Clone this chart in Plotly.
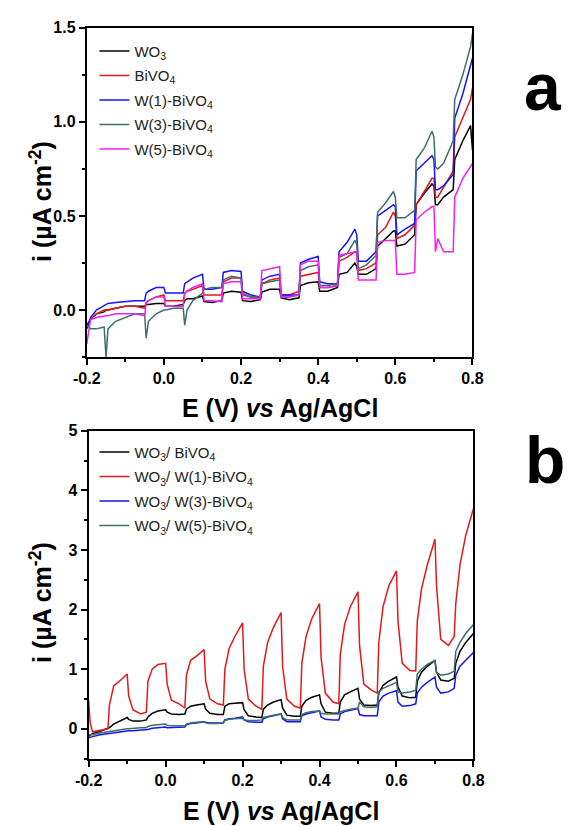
import plotly.graph_objects as go

W, H = 584, 826

# ---------------- Panel a data ----------------
X_A = [-0.200, -0.190, -0.175, -0.155, -0.150, -0.145, -0.125, -0.100, -0.075, -0.050,
       -0.046, -0.040, -0.020, 0.000, 0.004, 0.025, 0.050, 0.054, 0.060, 0.075,
       0.100, 0.104, 0.125, 0.150, 0.154, 0.175, 0.200, 0.204, 0.225, 0.250,
       0.254, 0.275, 0.300, 0.304, 0.325, 0.350, 0.354, 0.375, 0.400, 0.404,
       0.425, 0.450, 0.454, 0.475, 0.495, 0.500, 0.504, 0.525, 0.550, 0.554,
       0.575, 0.595, 0.600, 0.604, 0.625, 0.650, 0.654, 0.675, 0.695, 0.700,
       0.704, 0.710, 0.725, 0.750, 0.754, 0.775, 0.795, 0.800]

WO3 = [-0.08, -0.05, -0.02, -0.01, 0.00, 0.00, 0.01, 0.02, 0.02, 0.02,
       0.03, 0.03, 0.035, 0.035, 0.02, 0.02, 0.03, 0.05, 0.06, 0.06,
       0.075, 0.045, 0.04, 0.05, 0.09, 0.10, 0.095, 0.05, 0.045, 0.055,
       0.095, 0.11, 0.11, 0.065, 0.055, 0.065, 0.13, 0.145, 0.15, 0.10,
       0.10, 0.12, 0.19, 0.20, 0.25, 0.23, 0.19, 0.19, 0.22, 0.34,
       0.38, 0.42, 0.42, 0.34, 0.35, 0.40, 0.56, 0.62, 0.67, 0.66,
       0.56, 0.56, 0.60, 0.64, 0.80, 0.90, 0.98, 0.85]

BIVO4 = [-0.10, -0.05, -0.02, 0.00, 0.00, 0.00, 0.01, 0.02, 0.02, 0.01,
         0.04, 0.05, 0.07, 0.08, 0.05, 0.05, 0.05, 0.09, 0.10, 0.11,
         0.13, 0.08, 0.08, 0.08, 0.15, 0.17, 0.17, 0.08, 0.07, 0.07,
         0.14, 0.16, 0.17, 0.08, 0.08, 0.10, 0.18, 0.19, 0.20, 0.12,
         0.12, 0.13, 0.26, 0.28, 0.31, 0.30, 0.21, 0.22, 0.25, 0.40,
         0.44, 0.52, 0.50, 0.38, 0.40, 0.45, 0.56, 0.63, 0.70, 0.70,
         0.60, 0.60, 0.65, 0.74, 0.92, 1.02, 1.12, 1.18]

W1_BIVO4 = [-0.10, -0.04, 0.00, 0.025, 0.03, 0.035, 0.04, 0.045, 0.05, 0.05,
            0.09, 0.10, 0.12, 0.12, 0.09, 0.09, 0.09, 0.14, 0.15, 0.17,
            0.19, 0.11, 0.11, 0.12, 0.20, 0.21, 0.205, 0.10, 0.08, 0.07,
            0.16, 0.18, 0.19, 0.08, 0.08, 0.08, 0.25, 0.27, 0.285, 0.15,
            0.14, 0.14, 0.31, 0.36, 0.43, 0.40, 0.26, 0.26, 0.31, 0.50,
            0.53, 0.56, 0.55, 0.40, 0.43, 0.46, 0.74, 0.78, 0.82, 0.80,
            0.64, 0.64, 0.66, 0.72, 1.02, 1.15, 1.30, 1.34]

W3_BIVO4 = [-0.08, -0.10, -0.10, -0.09, -0.25, -0.10, -0.06, -0.04, -0.02, -0.02,
            -0.15, -0.06, -0.02, 0.00, 0.00, 0.01, 0.01, -0.08, 0.00, 0.05,
            0.09, 0.11, 0.12, 0.12, 0.16, 0.18, 0.17, 0.09, 0.07, 0.07,
            0.14, 0.15, 0.16, 0.07, 0.07, 0.08, 0.21, 0.23, 0.24, 0.13,
            0.13, 0.14, 0.28, 0.30, 0.37, 0.35, 0.22, 0.24, 0.29, 0.52,
            0.57, 0.63, 0.60, 0.49, 0.49, 0.53, 0.80, 0.86, 0.95, 0.92,
            0.76, 0.75, 0.78, 0.90, 1.12, 1.25, 1.40, 1.47]

W5_BIVO4 = [-0.18, -0.05, -0.04, -0.03, -0.03, -0.03, -0.02, -0.02, -0.02, -0.03,
            0.04, 0.05, 0.07, 0.07, 0.02, 0.02, 0.02, 0.09, 0.10, 0.12,
            0.14, 0.05, 0.05, 0.045, 0.14, 0.15, 0.15, 0.06, 0.06, 0.06,
            0.21, 0.22, 0.23, 0.07, 0.07, 0.08, 0.24, 0.26, 0.26, 0.12,
            0.12, 0.13, 0.29, 0.30, 0.31, 0.31, 0.16, 0.16, 0.16, 0.36,
            0.37, 0.37, 0.37, 0.19, 0.19, 0.20, 0.48, 0.52, 0.55, 0.55,
            0.31, 0.38, 0.31, 0.31, 0.60, 0.70, 0.77, 0.78]

NAMES_A = ["WO<sub>3</sub>", "BiVO<sub>4</sub>", "W(1)-BiVO<sub>4</sub>",
           "W(3)-BiVO<sub>4</sub>", "W(5)-BiVO<sub>4</sub>"]
SERIES_A = [WO3, BIVO4, W1_BIVO4, W3_BIVO4, W5_BIVO4]
COLORS_A = ["#000000", "#e0191c", "#1515f5", "#3d6e6b", "#f020f0"]

# ---------------- Panel b data ----------------
X_B = [-0.200, -0.196, -0.190, -0.170, -0.150, -0.146, -0.135, -0.120, -0.100, -0.096,
       -0.085, -0.065, -0.050, -0.046, -0.035, -0.020, 0.000, 0.004, 0.015, 0.035,
       0.050, 0.054, 0.065, 0.080, 0.100, 0.104, 0.115, 0.135, 0.150, 0.154,
       0.165, 0.180, 0.200, 0.204, 0.215, 0.235, 0.250, 0.254, 0.265, 0.280,
       0.300, 0.304, 0.315, 0.335, 0.350, 0.354, 0.365, 0.380, 0.400, 0.404,
       0.415, 0.435, 0.450, 0.454, 0.465, 0.480, 0.500, 0.504, 0.515, 0.535,
       0.550, 0.554, 0.565, 0.580, 0.600, 0.604, 0.615, 0.635, 0.650, 0.654,
       0.665, 0.680, 0.700, 0.704, 0.715, 0.735, 0.750, 0.754, 0.765, 0.780,
       0.800]

WO3_BIVO4 = [-0.12, -0.10, -0.08, -0.04, 0.00, 0.02, 0.08, 0.13, 0.19, 0.16,
             0.13, 0.13, 0.15, 0.20, 0.26, 0.30, 0.32, 0.28, 0.25, 0.24,
             0.25, 0.33, 0.38, 0.40, 0.42, 0.33, 0.26, 0.24, 0.24, 0.38,
             0.42, 0.43, 0.44, 0.32, 0.22, 0.20, 0.19, 0.33, 0.40, 0.45,
             0.49, 0.35, 0.23, 0.21, 0.21, 0.38, 0.48, 0.53, 0.57, 0.42,
             0.28, 0.26, 0.26, 0.45, 0.57, 0.62, 0.68, 0.50, 0.40, 0.39,
             0.40, 0.60, 0.73, 0.80, 0.87, 0.70, 0.55, 0.52, 0.53, 0.80,
             0.95, 1.05, 1.15, 0.95, 0.82, 0.80, 0.85, 1.10, 1.30, 1.45,
             1.60]

WO3_W1 = [0.48, 0.10, -0.05, -0.03, 0.00, 0.40, 0.72, 0.80, 0.92, 0.55,
          0.32, 0.25, 0.28, 0.80, 1.00, 1.08, 1.10, 0.75, 0.48, 0.42,
          0.35, 0.90, 1.15, 1.22, 1.33, 0.80, 0.50, 0.42, 0.40, 1.00,
          1.35, 1.55, 1.78, 1.00, 0.50, 0.38, 0.33, 1.05, 1.45, 1.70,
          1.95, 1.05, 0.50, 0.38, 0.35, 1.10, 1.55, 1.85, 2.10, 1.20,
          0.60, 0.45, 0.42, 1.25, 1.75, 2.05, 2.30, 1.40, 0.75, 0.65,
          0.60, 1.45, 2.05, 2.40, 2.65, 1.80, 1.10, 0.98, 0.97, 1.80,
          2.35, 2.75, 3.18, 2.40, 1.50, 1.40, 1.55, 2.10, 2.75, 3.25,
          3.70]

WO3_W3 = [-0.15, -0.14, -0.13, -0.10, -0.08, -0.07, -0.06, -0.05, -0.03, -0.03,
          -0.03, -0.02, -0.02, -0.01, 0.01, 0.02, 0.03, 0.02, 0.02, 0.03,
          0.03, 0.07, 0.09, 0.10, 0.12, 0.11, 0.10, 0.10, 0.10, 0.15,
          0.17, 0.18, 0.20, 0.15, 0.12, 0.11, 0.11, 0.17, 0.20, 0.22,
          0.25, 0.17, 0.12, 0.12, 0.12, 0.22, 0.25, 0.27, 0.30, 0.20,
          0.16, 0.15, 0.15, 0.25, 0.29, 0.31, 0.34, 0.24, 0.22, 0.22,
          0.22, 0.45, 0.55, 0.60, 0.64, 0.45, 0.38, 0.39, 0.42, 0.60,
          0.70, 0.78, 0.87, 0.70, 0.60, 0.62, 0.68, 0.90, 1.05, 1.15,
          1.28]

WO3_W5 = [-0.10, -0.10, -0.10, -0.07, -0.05, -0.04, -0.03, -0.01, 0.00, 0.00,
          0.01, 0.02, 0.02, 0.04, 0.06, 0.07, 0.08, 0.06, 0.05, 0.05,
          0.05, 0.08, 0.10, 0.11, 0.12, 0.10, 0.09, 0.09, 0.10, 0.14,
          0.16, 0.17, 0.18, 0.15, 0.14, 0.14, 0.15, 0.19, 0.21, 0.23,
          0.25, 0.19, 0.15, 0.15, 0.15, 0.24, 0.27, 0.29, 0.30, 0.26,
          0.25, 0.25, 0.25, 0.29, 0.31, 0.33, 0.35, 0.45, 0.37, 0.36,
          0.37, 0.62, 0.68, 0.72, 0.78, 0.62, 0.60, 0.62, 0.65, 0.92,
          1.00, 1.08, 1.15, 0.95, 0.90, 0.92, 0.97, 1.30, 1.45, 1.60,
          1.75]

NAMES_B = ["WO<sub>3</sub>/ BiVO<sub>4</sub>", "WO<sub>3</sub>/ W(1)-BiVO<sub>4</sub>",
           "WO<sub>3</sub>/ W(3)-BiVO<sub>4</sub>", "WO<sub>3</sub>/ W(5)-BiVO<sub>4</sub>"]
SERIES_B = [WO3_BIVO4, WO3_W1, WO3_W3, WO3_W5]
COLORS_B = ["#000000", "#e0191c", "#1515f5", "#3d6e6b"]

XTICKS = [-0.2, 0.0, 0.2, 0.4, 0.6, 0.8]
XTICKTEXT = ["-0.2", "0.0", "0.2", "0.4", "0.6", "0.8"]
YTICKS_A = [0.0, 0.5, 1.0, 1.5]
YTICKTEXT_A = ["0.0", "0.5", "1.0", "1.5"]
YTICKS_B = [0, 1, 2, 3, 4, 5]
YTICKTEXT_B = ["0", "1", "2", "3", "4", "5"]

FONT = "Liberation Sans, Arial, sans-serif"

fig = go.Figure()
for name, ys, col in zip(NAMES_A, SERIES_A, COLORS_A):
    assert len(ys) == len(X_A)
    fig.add_trace(go.Scatter(x=X_A, y=ys, mode="lines", name=name,
                             line=dict(color=col, width=1.5),
                             xaxis="x", yaxis="y", legend="legend", legendgroup=name))
for name, ys, col in zip(NAMES_B, SERIES_B, COLORS_B):
    assert len(ys) == len(X_B)
    fig.add_trace(go.Scatter(x=X_B, y=ys, mode="lines", name=name,
                             line=dict(color=col, width=1.5),
                             xaxis="x2", yaxis="y2", legend="legend2", legendgroup=name))


def px_x(p):
    return p / W


def px_y(p):
    return 1 - p / H


def bold(labels):
    return ["<b>%s</b>" % t for t in labels]


tickfont = dict(family=FONT, size=16, color="black")
common = dict(showgrid=False, zeroline=False, showline=True, linewidth=2, linecolor="black",
              mirror=True, ticks="outside", ticklen=6, tickwidth=2, tickcolor="black",
              tickfont=tickfont)
minor_style = dict(ticks="outside", ticklen=3, tickwidth=2, tickcolor="black")

fig.update_layout(
    width=W, height=H, margin=dict(l=0, r=0, t=0, b=0),
    paper_bgcolor="white", plot_bgcolor="white",
    hovermode=False,
    xaxis=dict(domain=[px_x(76), px_x(479)], anchor="y", range=[-0.2, 0.8],
               tickvals=XTICKS, ticktext=bold(XTICKTEXT),
               minor=dict(tickvals=[-0.1, 0.1, 0.3, 0.5, 0.7], **minor_style), **common),
    yaxis=dict(domain=[px_y(352.5), px_y(20)], anchor="x", range=[-0.25, 1.5],
               tickvals=YTICKS_A, ticktext=bold(YTICKTEXT_A),
               minor=dict(tickvals=[-0.25, 0.25, 0.75, 1.25], **minor_style), **common),
    xaxis2=dict(domain=[px_x(78), px_x(480)], anchor="y2", range=[-0.2, 0.8],
                tickvals=XTICKS, ticktext=bold(XTICKTEXT),
                minor=dict(tickvals=[-0.1, 0.1, 0.3, 0.5, 0.7], **minor_style), **common),
    yaxis2=dict(domain=[px_y(758), px_y(427)], anchor="x2", range=[-0.5, 5],
                tickvals=YTICKS_B, ticktext=bold(YTICKTEXT_B),
                minor=dict(tickvals=[-0.5, 0.5, 1.5, 2.5, 3.5, 4.5], **minor_style), **common),
    legend=dict(x=px_x(84), y=px_y(27), xanchor="left", yanchor="top",
                bgcolor="rgba(0,0,0,0)", font=dict(family=FONT, size=15, color="#222"),
                tracegroupgap=2, itemwidth=30),
    legend2=dict(x=px_x(84), y=px_y(432), xanchor="left", yanchor="top",
                 bgcolor="rgba(0,0,0,0)", font=dict(family=FONT, size=15, color="#222"),
                 tracegroupgap=2, itemwidth=30),
)

ytitle = "<b>i (\u00b5A cm<sup>-2</sup>)</b>"
xtitle = "<b>E (V) <i>vs</i> Ag/AgCl</b>"
tfont = dict(family=FONT, size=25, color="black")
lfont = dict(family=FONT, size=66, color="black")
ann = [
    dict(text=ytitle, x=px_x(28), y=px_y(195), textangle=-90, font=tfont),
    dict(text=ytitle, x=px_x(28), y=px_y(600), textangle=-90, font=tfont),
    dict(text=xtitle, x=px_x(278), y=px_y(404), font=tfont),
    dict(text=xtitle, x=px_x(279), y=px_y(811), font=tfont),
    dict(text="<b>a</b>", x=px_x(553), y=px_y(80), font=lfont),
    dict(text="<b>b</b>", x=px_x(555), y=px_y(456), font=lfont),
]
for a in ann:
    a.update(xref="paper", yref="paper", showarrow=False, xanchor="center", yanchor="middle")
fig.update_layout(annotations=ann)

fig.write_html("out.html",
               config={"displayModeBar": False, "staticPlot": True},
               post_script="document.body.style.margin='0';"
                           "document.body.style.overflow='hidden';")
